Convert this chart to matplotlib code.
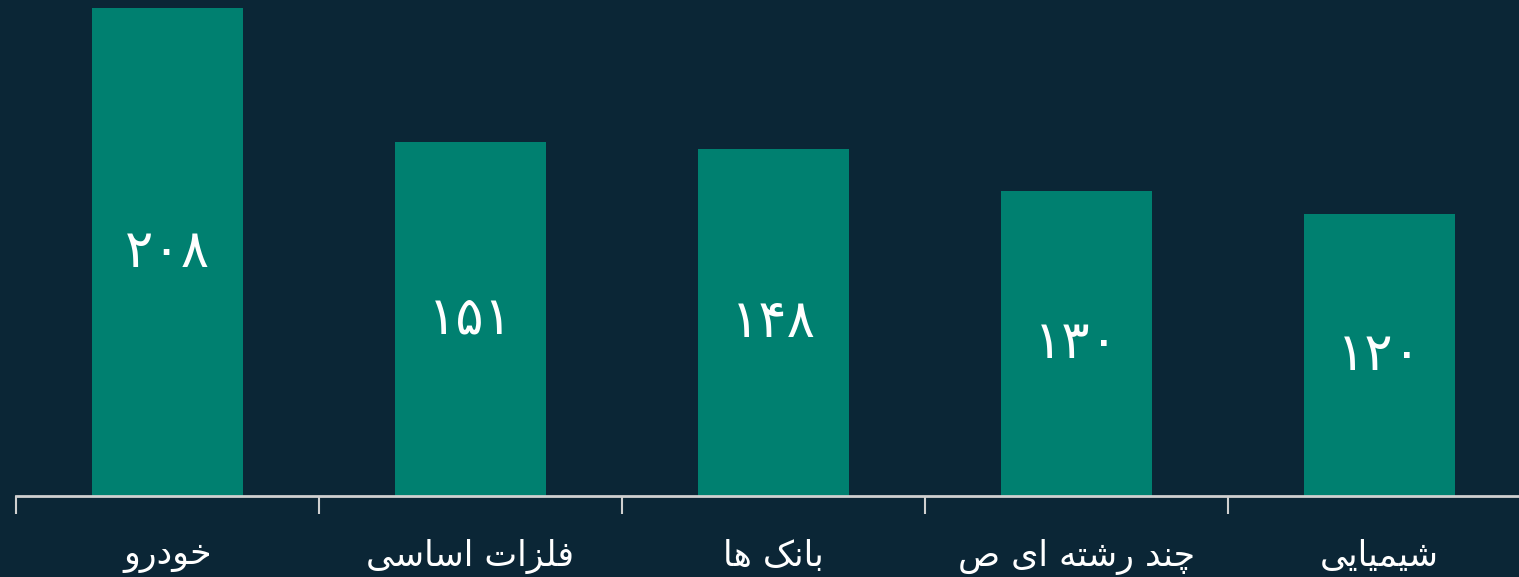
import matplotlib
matplotlib.use("Agg")
import matplotlib.pyplot as plt

categories = ["خودرو", "فلزات اساسی", "بانک ها", "چند رشته ای ص", "شیمیایی"]
values = [208, 151, 148, 130, 120]
value_labels = ["۲۰۸", "۱۵۱", "۱۴۸", "۱۳۰", "۱۲۰"]

BG = "#0b2636"
BAR = "#008070"

# matplotlib does no Arabic shaping, so map letters to presentation forms
# (isolated, final, initial, medial); two-form letters join on the right only
FORMS = {
    "ا": ("\uFE8D", "\uFE8E"),
    "ب": ("\uFE8F", "\uFE90", "\uFE91", "\uFE92"),
    "ت": ("\uFE95", "\uFE96", "\uFE97", "\uFE98"),
    "چ": ("\uFB7A", "\uFB7B", "\uFB7C", "\uFB7D"),
    "خ": ("\uFEA5", "\uFEA6", "\uFEA7", "\uFEA8"),
    "د": ("\uFEA9", "\uFEAA"),
    "ر": ("\uFEAD", "\uFEAE"),
    "ز": ("\uFEAF", "\uFEB0"),
    "س": ("\uFEB1", "\uFEB2", "\uFEB3", "\uFEB4"),
    "ش": ("\uFEB5", "\uFEB6", "\uFEB7", "\uFEB8"),
    "ص": ("\uFEB9", "\uFEBA", "\uFEBB", "\uFEBC"),
    "ف": ("\uFED1", "\uFED2", "\uFED3", "\uFED4"),
    "ک": ("\uFB8E", "\uFB8F", "\uFB90", "\uFB91"),
    "ل": ("\uFEDD", "\uFEDE", "\uFEDF", "\uFEE0"),
    "م": ("\uFEE1", "\uFEE2", "\uFEE3", "\uFEE4"),
    "ن": ("\uFEE5", "\uFEE6", "\uFEE7", "\uFEE8"),
    "ه": ("\uFEE9", "\uFEEA", "\uFEEB", "\uFEEC"),
    "و": ("\uFEED", "\uFEEE"),
    "ی": ("\uFEEF", "\uFEF0", "\uFEF3", "\uFEF4"),
}


def shape(text):
    out = []
    for i, ch in enumerate(text):
        forms = FORMS.get(ch)
        if forms is None:
            out.append(ch)
            continue
        prev = text[i - 1] if i > 0 else ""
        nxt = text[i + 1] if i + 1 < len(text) else ""
        joins_prev = prev in FORMS and len(FORMS[prev]) == 4
        joins_next = len(forms) == 4 and nxt in FORMS
        if joins_prev and joins_next:
            out.append(forms[3])
        elif joins_next:
            out.append(forms[2])
        elif joins_prev:
            out.append(forms[1])
        else:
            out.append(forms[0])
    return "".join(reversed(out))


W, H = 1519, 577
fig = plt.figure(figsize=(W / 100, H / 100), dpi=100, facecolor=BG)
ax = fig.add_axes([16 / W, 81 / H, 1515 / W, 496 / H])
ax.set_facecolor(BG)

x = list(range(len(categories)))
ax.bar(x, values, width=0.5, color=BAR)
ax.set_xlim(-0.5, len(categories) - 0.5)
ax.set_ylim(0, 211.4)

for xi, v, lab in zip(x, values, value_labels):
    ax.text(xi, v / 2, lab, ha="center", va="center", color="white", fontsize=38,
            family="DejaVu Sans")

ax.set_xticks([i - 0.5 for i in range(len(categories) + 1)])
ax.set_xticklabels([])
ax.set_xticks(x, minor=True)
ax.set_xticklabels([shape(c) for c in categories], minor=True, color="white",
                   fontsize=25, family="DejaVu Sans")
ax.tick_params(axis="x", which="major", length=13, width=1.5, color="#d0d0d0")
ax.tick_params(axis="x", which="minor", length=0, pad=31)
ax.set_yticks([])
for side in ["top", "right", "left"]:
    ax.spines[side].set_visible(False)
ax.spines["bottom"].set_color("#d0d0d0")
ax.spines["bottom"].set_linewidth(2)

fig.savefig("out.png", dpi=100, facecolor=BG)
